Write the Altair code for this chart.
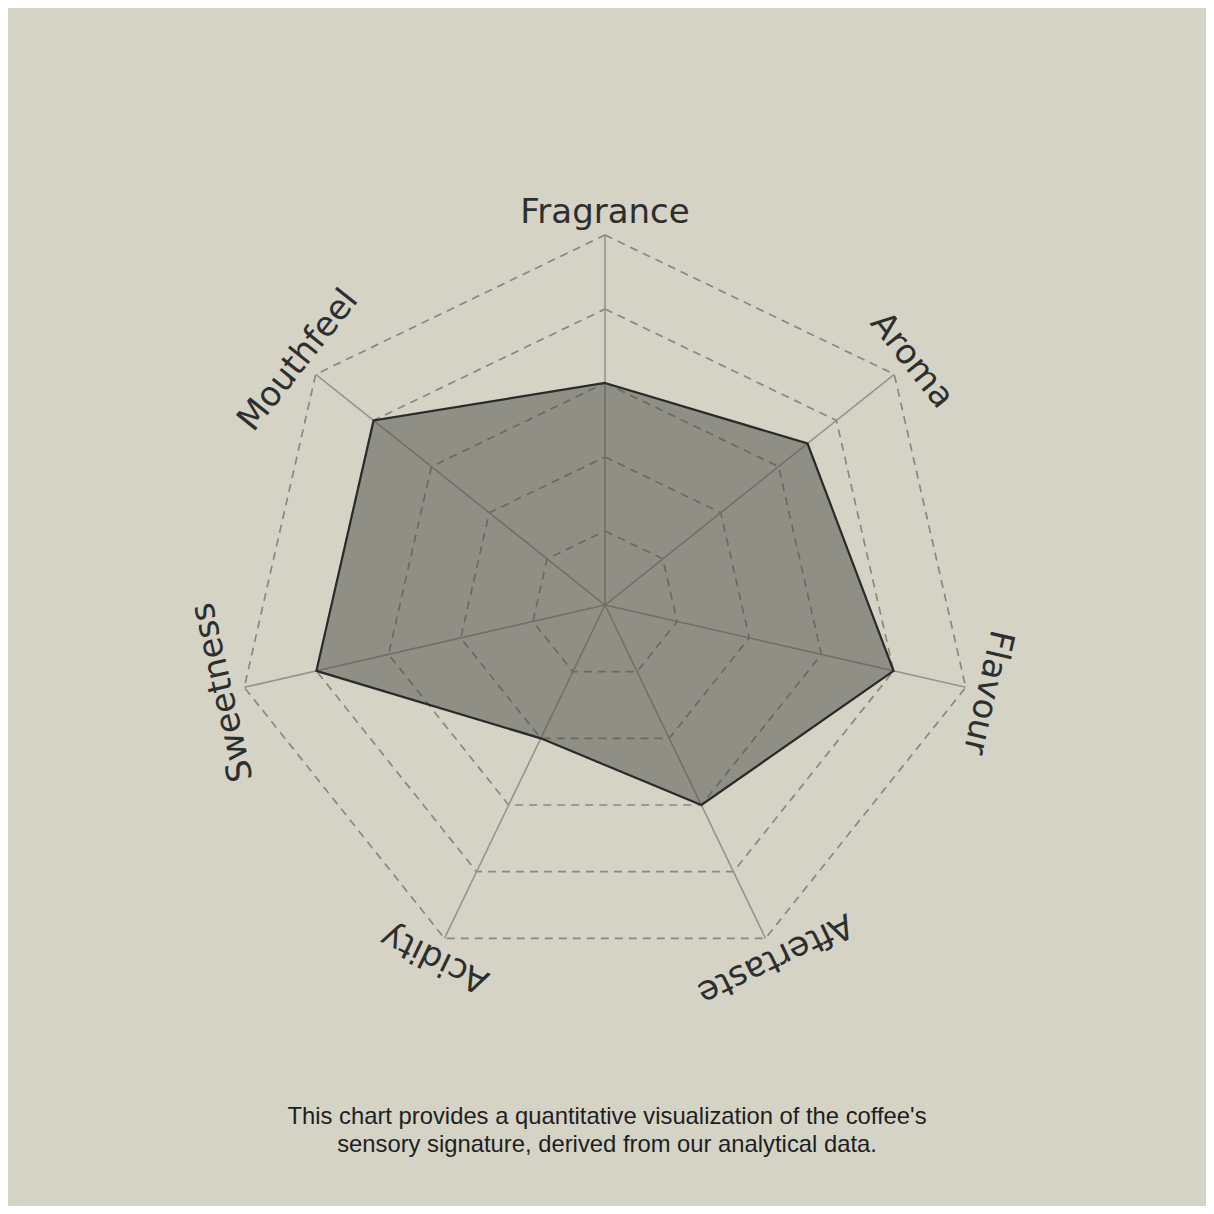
import altair as alt
import pandas as pd

categories = ["Fragrance", "Aroma", "Flavour", "Aftertaste", "Acidity", "Sweetness", "Mouthfeel"]
scores = [0.6, 0.7, 0.8, 0.6, 0.4, 0.8, 0.8]
levels = [0.2, 0.4, 0.6, 0.8, 1.0]
caption = ["This chart provides a quantitative visualization of the coffee's",
           "sensory signature, derived from our analytical data."]

n = len(categories)
score_df = pd.DataFrame({"idx": range(n), "category": categories, "r": scores})
grid_df = pd.DataFrame([{"idx": i, "level": lv, "r": lv} for lv in levels for i in range(n)])
spoke_df = pd.DataFrame([{"idx": i, "r": rr} for i in range(n) for rr in (0, 1)])
label_df = pd.DataFrame({"idx": range(n), "category": categories, "r": 1.06})
caption_df = pd.DataFrame({"text": ["\n".join(caption)]})

xs = alt.Scale(domain=[-1.6135, 1.6243])
ys = alt.Scale(domain=[-1.6243, 1.6135])


def polar(chart):
    return chart.transform_calculate(
        ang=alt.datum.idx * 2 * 3.141592653589793 / n
    ).transform_calculate(
        px=alt.datum.r * alt.expr.sin(alt.datum.ang),
        py=alt.datum.r * alt.expr.cos(alt.datum.ang),
        deg=alt.datum.idx * 360 / n,
    )


X = alt.X("px:Q", scale=xs, axis=None)
Y = alt.Y("py:Q", scale=ys, axis=None)

grid = polar(alt.Chart(grid_df).mark_line(
    interpolate="linear-closed", stroke="#8a887f", strokeWidth=1.7, strokeDash=[8, 6]
)).encode(x=X, y=Y, detail="level:N", order="idx:Q")

spokes = polar(alt.Chart(spoke_df).mark_line(
    stroke="#96948b", strokeWidth=1.6
)).encode(x=X, y=Y, detail="idx:N", order="r:Q")

shape = polar(alt.Chart(score_df).mark_line(
    interpolate="linear-closed", fill="#4c4c44", fillOpacity=0.5,
    stroke="#2a2a2a", strokeWidth=2.2
)).encode(x=X, y=Y, order="idx:Q")

labels = polar(alt.Chart(label_df).mark_text(
    font="DejaVu Sans", fontSize=34, color="#2e2e2e", align="center", baseline="middle"
)).encode(x=X, y=Y, text="category:N", angle=alt.Angle("deg:Q", scale=None))

note = alt.Chart(caption_df).mark_text(
    font="Liberation Sans", fontSize=23.8, color="#1e1e1e", align="center",
    baseline="top", lineBreak="\n", lineHeight=28
).encode(x=alt.value(599), y=alt.value(1097), text="text:N")

chart = alt.layer(grid, spokes, shape, labels, note).properties(
    width=1198, height=1198, padding=0, autosize=alt.AutoSizeParams(type="none")
).configure(background="#d4d3c6").configure_view(stroke=None)

chart.save("out.html", embed_options={"renderer": "svg", "actions": False})
